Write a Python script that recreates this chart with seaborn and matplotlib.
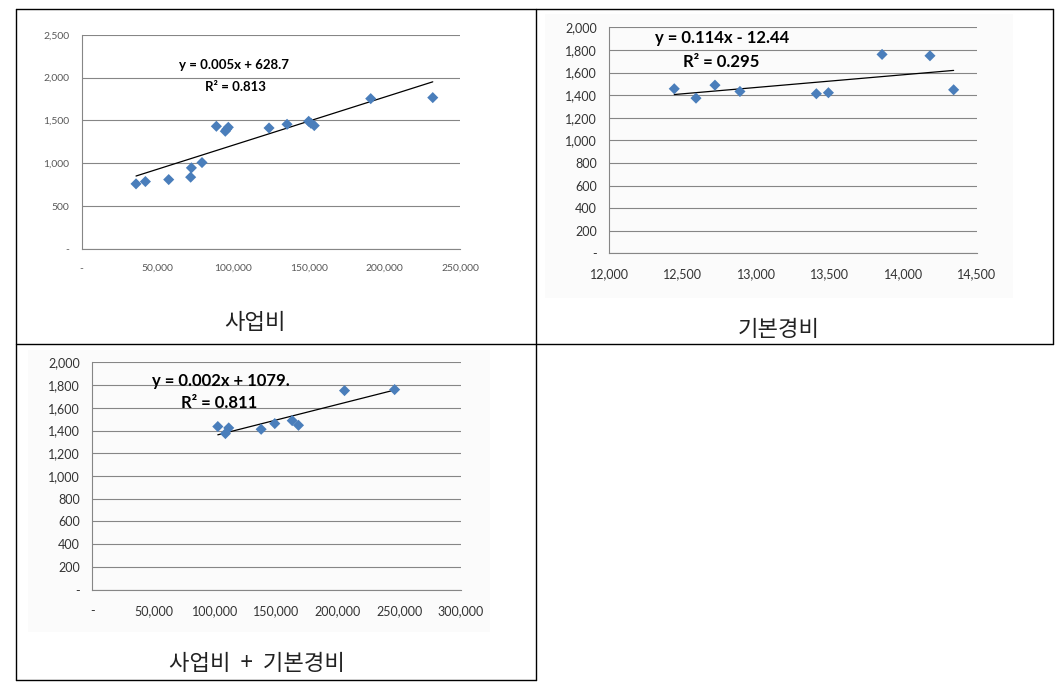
import matplotlib
matplotlib.use('Agg')
import matplotlib.pyplot as plt
from matplotlib.lines import Line2D
from matplotlib.patches import Rectangle
from matplotlib.ticker import FuncFormatter
import seaborn as sns

# 사업비
biz_x = [35900, 42100, 57500, 72000, 72500, 79500, 89000, 94900, 95800, 96900,
         123800, 135700, 150000, 151500, 153700, 191000, 232000]
biz_y = [759, 786, 809, 837, 946, 1008, 1432, 1374, 1397, 1420,
         1412, 1455, 1490, 1467, 1440, 1755, 1767]
biz_xticks = [0, 50000, 100000, 150000, 200000, 250000]
biz_yticks = [0, 500, 1000, 1500, 2000, 2500]
biz_eq = ['y = 0.005x + 628.7', 'R² = 0.813']

# 기본경비
base_x = [12442, 12590, 12719, 12889, 13409, 13491, 13856, 14182, 14343]
base_y = [1456, 1373, 1488, 1432, 1412, 1421, 1760, 1748, 1447]
base_xticks = [12000, 12500, 13000, 13500, 14000, 14500]
base_yticks = [0, 200, 400, 600, 800, 1000, 1200, 1400, 1600, 1800, 2000]
base_eq = ['y = 0.114x - 12.44', 'R² = 0.295']

# 사업비 + 기본경비
tot_x = [102200, 108400, 111100, 137500, 148600, 162800, 167900, 205400, 246200]
tot_y = [1435, 1373, 1423, 1411, 1461, 1487, 1446, 1751, 1760]
tot_xticks = [0, 50000, 100000, 150000, 200000, 250000, 300000]
tot_yticks = [0, 200, 400, 600, 800, 1000, 1200, 1400, 1600, 1800, 2000]
tot_eq = ['y = 0.002x + 1079.', 'R² = 0.811']

W, H = 1061, 691

sns.set_style('white')
plt.rcParams['font.family'] = ['Lato', 'Noto Sans CJK KR', 'DejaVu Sans']

fig = plt.figure(figsize=(W / 100, H / 100), dpi=100)


def fx(px):
    return px / W


def fy(py):
    return 1 - py / H


def fmt(v, pos):
    return '-' if v == 0 else f'{v:,.0f}'


def panel(box, x, y, xticks, yticks, eq, eq_xy, title, title_xy,
          tick_fs, tick_col, eq_fs, bg=None):
    l, t, r, b = box
    if bg is not None:
        bx0, by0, bx1, by1 = bg
        fig.add_artist(Rectangle((fx(bx0), fy(by1)), (bx1 - bx0) / W, (by1 - by0) / H,
                                 transform=fig.transFigure, facecolor='#fbfbfb',
                                 edgecolor='none', zorder=0))
    ax = fig.add_axes([fx(l), fy(b), (r - l) / W, (b - t) / H])
    ax.patch.set_alpha(0)
    sns.regplot(x=x, y=y, ax=ax, scatter=False, ci=None, truncate=True,
                line_kws=dict(color='black', lw=0.9, zorder=2))
    sns.scatterplot(x=x, y=y, ax=ax, marker='D', s=32, color='#4a7ebb',
                    edgecolor='none', zorder=3)
    ax.set_xlim(xticks[0], xticks[-1])
    ax.set_ylim(yticks[0], yticks[-1])
    ax.set_xticks(xticks)
    ax.set_yticks(yticks)
    ax.xaxis.set_major_formatter(FuncFormatter(fmt))
    ax.yaxis.set_major_formatter(FuncFormatter(fmt))
    ax.yaxis.grid(True, color='#868686', lw=0.8)
    ax.xaxis.grid(False)
    for s in ['top', 'right']:
        ax.spines[s].set_visible(False)
    for s in ['left', 'bottom']:
        ax.spines[s].set_color('#868686')
        ax.spines[s].set_linewidth(0.8)
    ax.tick_params(axis='both', direction='out', length=4, width=0.8, color='#868686',
                   labelsize=tick_fs, labelcolor=tick_col)
    ax.tick_params(axis='y', pad=5)
    ax.tick_params(axis='x', pad=7)
    ax.set_xlabel('')
    ax.set_ylabel('')
    (ex1, ey1), (ex2, ey2) = eq_xy
    fig.text(fx(ex1), fy(ey1), eq[0], ha='center', va='center', fontsize=eq_fs,
             fontweight='bold', color='black')
    fig.text(fx(ex2), fy(ey2), eq[1], ha='center', va='center', fontsize=eq_fs,
             fontweight='bold', color='black')
    fig.text(fx(title_xy[0]), fy(title_xy[1]), title, ha='center', va='center',
             fontsize=16, family=['Noto Sans CJK KR', 'DejaVu Sans'], color='#222222')
    return ax


panel((81.7, 34.9, 460, 248.8), biz_x, biz_y, biz_xticks, biz_yticks, biz_eq,
      ((234, 65), (235, 87)), '사업비', (255, 322), 7.5, '#595959', 9.5)
panel((609.3, 27.3, 976.7, 253.3), base_x, base_y, base_xticks, base_yticks, base_eq,
      ((722, 38), (721, 62)), '기본경비', (779, 330), 9, '#333333', 12,
      bg=(545, 14, 1013, 298))
panel((92.3, 362.3, 460.7, 589.7), tot_x, tot_y, tot_xticks, tot_yticks, tot_eq,
      ((221, 381), (219, 403)), '사업비  +  기본경비', (257, 664), 9, '#333333', 12,
      bg=(28, 350, 490, 632))

# 표 테두리
lines = [
    ((16, 9), (1053, 9)),
    ((16, 344), (1053, 344)),
    ((16, 680), (536, 680)),
    ((16, 9), (16, 680)),
    ((536, 9), (536, 680)),
    ((1053, 9), (1053, 344)),
]
for (x0, y0), (x1, y1) in lines:
    fig.add_artist(Line2D([fx(x0), fx(x1)], [fy(y0), fy(y1)], transform=fig.transFigure,
                          color='black', lw=1.0))

fig.savefig('out.png', dpi=100)
